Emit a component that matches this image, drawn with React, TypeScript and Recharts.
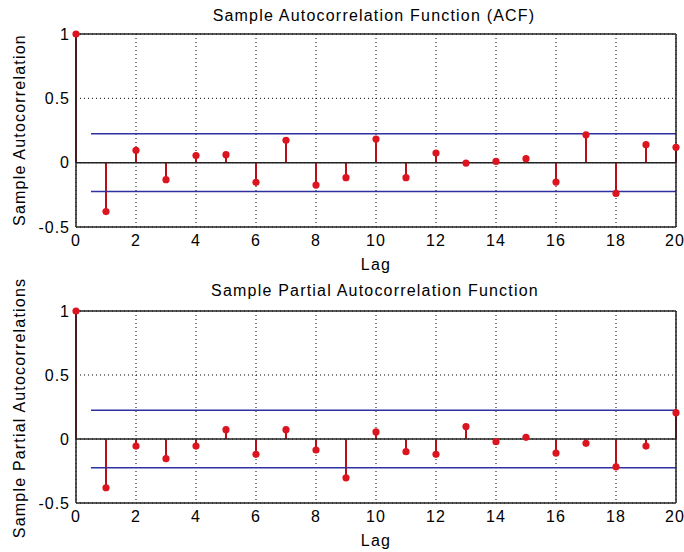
import { ComposedChart, Bar, Scatter, XAxis, YAxis, CartesianGrid, ReferenceLine } from 'recharts'

const lags = [0, 1, 2, 3, 4, 5, 6, 7, 8, 9, 10, 11, 12, 13, 14, 15, 16, 17, 18, 19, 20]
const acfValues = [
  1, -0.38, 0.096, -0.132, 0.055, 0.062, -0.153, 0.174, -0.174, -0.117, 0.184,
  -0.117, 0.075, -0.003, 0.01, 0.031, -0.151, 0.216, -0.239, 0.14, 0.119,
]
const pacfValues = [
  1, -0.381, -0.055, -0.154, -0.055, 0.073, -0.12, 0.073, -0.086, -0.303, 0.055,
  -0.099, -0.12, 0.097, -0.021, 0.013, -0.11, -0.034, -0.217, -0.055, 0.206,
]
const confBound = 0.224
const xTicks = [0, 2, 4, 6, 8, 10, 12, 14, 16, 18, 20]
const yTicks = [-0.5, 0, 0.5, 1]

const FONT = '"Liberation Sans", Arial, sans-serif'
const BORDER = '#222'
const tickStyle = { fontSize: 16, fill: '#000', fontFamily: FONT, letterSpacing: 1 }

interface StemPanelProps {
  values: number[]
  top: number
  marginTop: number
}

function StemPanel({ values, top, marginTop }: StemPanelProps) {
  const data = lags.map((lag, i) => ({ lag, v: values[i] }))

  return (
    <div style={{ position: 'absolute', left: 0, top, width: 684, height: 276 }}>
      <ComposedChart
        width={684}
        height={276}
        data={data}
        margin={{ top: marginTop, right: 8, bottom: 19, left: 16 }}
      >
        <CartesianGrid stroke="#000" strokeDasharray="1 3" />
        <XAxis
          dataKey="lag"
          type="number"
          domain={[0, 20]}
          ticks={xTicks}
          height={30}
          tickLine={false}
          tickSize={0}
          tickMargin={8}
          axisLine={{ stroke: BORDER, strokeWidth: 1.5 }}
          tick={tickStyle}
        />
        {/* inward tick marks, MATLAB style */}
        <XAxis xAxisId="tb" type="number" domain={[0, 20]} ticks={xTicks} mirror tick={false} axisLine={false} tickSize={5} tickLine={{ stroke: BORDER }} />
        <XAxis xAxisId="tt" orientation="top" type="number" domain={[0, 20]} ticks={xTicks} mirror tick={false} axisLine={false} tickSize={5} tickLine={{ stroke: BORDER }} />
        <YAxis
          type="number"
          domain={[-0.5, 1]}
          ticks={yTicks}
          width={60}
          tickLine={false}
          tickSize={0}
          tickMargin={6}
          axisLine={{ stroke: BORDER, strokeWidth: 1.5 }}
          tick={tickStyle}
        />
        <YAxis yAxisId="yl" type="number" domain={[-0.5, 1]} ticks={yTicks} mirror tick={false} axisLine={false} tickSize={5} tickLine={{ stroke: BORDER }} />
        <YAxis yAxisId="yr" orientation="right" type="number" domain={[-0.5, 1]} ticks={yTicks} mirror tick={false} axisLine={false} tickSize={5} tickLine={{ stroke: BORDER }} />

        <ReferenceLine
          segment={[{ x: 0.5, y: confBound }, { x: 20, y: confBound }]}
          stroke="#3030a0"
          strokeWidth={1.5}
        />
        <ReferenceLine
          segment={[{ x: 0.5, y: -confBound }, { x: 20, y: -confBound }]}
          stroke="#3030a0"
          strokeWidth={1.5}
        />
        <ReferenceLine y={0} stroke={BORDER} strokeWidth={1.5} />
        <ReferenceLine y={1} stroke={BORDER} strokeWidth={1.5} />
        <ReferenceLine x={20} stroke={BORDER} strokeWidth={1.5} />

        <Bar dataKey="v" barSize={2} fill="#b81018" isAnimationActive={false} />
        <Scatter
          dataKey="v"
          isAnimationActive={false}
          shape={(p: any) => <circle cx={p.cx} cy={p.cy} r={3.6} fill="#dc1420" />}
        />
      </ComposedChart>
    </div>
  )
}

const textBase = {
  position: 'absolute' as const,
  fontFamily: FONT,
  fontSize: 16,
  lineHeight: '16px',
  letterSpacing: 1.2,
  color: '#000',
  whiteSpace: 'nowrap' as const,
}

function Centered({ x, top, children }: { x: number; top: number; children: string }) {
  return (
    <div style={{ ...textBase, left: x, top, transform: 'translateX(-50%)' }}>{children}</div>
  )
}

function VerticalLabel({ x, y, children }: { x: number; y: number; children: string }) {
  return (
    <div
      style={{
        ...textBase,
        left: x,
        top: y,
        transform: 'translate(-50%, -50%) rotate(-90deg)',
      }}
    >
      {children}
    </div>
  )
}

export default function App() {
  return (
    <div
      style={{
        position: 'absolute',
        left: 0,
        top: 0,
        width: 684,
        height: 552,
        background: '#fff',
        overflow: 'hidden',
      }}
    >
      <StemPanel values={acfValues} top={0} marginTop={34} />
      <StemPanel values={pacfValues} top={276} marginTop={35} />

      <Centered x={374} top={8}>Sample Autocorrelation Function (ACF)</Centered>
      <Centered x={376} top={257}>Lag</Centered>
      <VerticalLabel x={19.5} y={130}>Sample Autocorrelation</VerticalLabel>

      <Centered x={375} top={283}>Sample Partial Autocorrelation Function</Centered>
      <Centered x={376} top={533}>Lag</Centered>
      <VerticalLabel x={19.5} y={408}>Sample Partial Autocorrelations</VerticalLabel>
    </div>
  )
}
